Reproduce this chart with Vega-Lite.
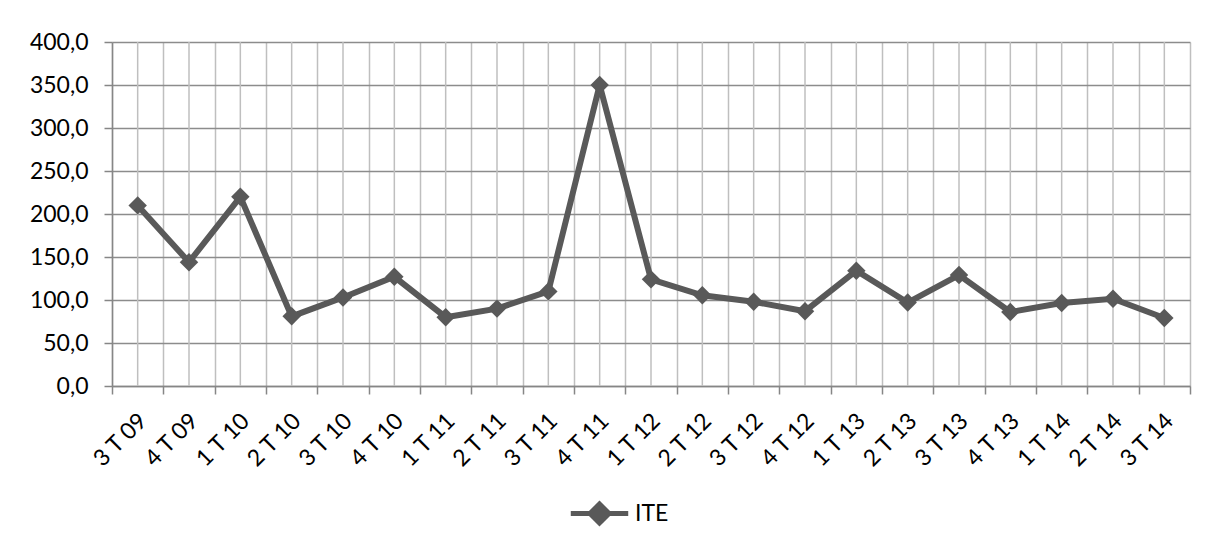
{
  "$schema": "https://vega.github.io/schema/vega-lite/v6.json",
  "width": 1078,
  "height": 344,
  "autosize": {"type": "none"},
  "padding": {"left": 112, "top": 42, "right": 17, "bottom": 160},
  "background": "white",
  "config": {
    "font": "Lato",
    "view": {"stroke": null},
    "axis": {"labelFont": "Lato", "labelFontSize": 23, "labelColor": "#000000"},
    "legend": {"labelFont": "Lato", "labelFontSize": 23, "labelColor": "#000000"}
  },
  "data": {
    "values": [
      {"q": "3 T 09", "v": 210, "s": "ITE"},
      {"q": "4 T 09", "v": 144, "s": "ITE"},
      {"q": "1 T 10", "v": 220, "s": "ITE"},
      {"q": "2 T 10", "v": 81, "s": "ITE"},
      {"q": "3 T 10", "v": 103, "s": "ITE"},
      {"q": "4 T 10", "v": 127, "s": "ITE"},
      {"q": "1 T 11", "v": 80, "s": "ITE"},
      {"q": "2 T 11", "v": 90, "s": "ITE"},
      {"q": "3 T 11", "v": 110, "s": "ITE"},
      {"q": "4 T 11", "v": 350, "s": "ITE"},
      {"q": "1 T 12", "v": 124, "s": "ITE"},
      {"q": "2 T 12", "v": 105.5, "s": "ITE"},
      {"q": "3 T 12", "v": 98, "s": "ITE"},
      {"q": "4 T 12", "v": 87, "s": "ITE"},
      {"q": "1 T 13", "v": 134, "s": "ITE"},
      {"q": "2 T 13", "v": 97, "s": "ITE"},
      {"q": "3 T 13", "v": 129, "s": "ITE"},
      {"q": "4 T 13", "v": 86, "s": "ITE"},
      {"q": "1 T 14", "v": 96.5, "s": "ITE"},
      {"q": "2 T 14", "v": 101.5, "s": "ITE"},
      {"q": "3 T 14", "v": 79, "s": "ITE"}
    ]
  },
  "encoding": {
    "x": {
      "field": "q",
      "type": "ordinal",
      "sort": null,
      "scale": {"type": "band", "paddingInner": 0, "paddingOuter": 0},
      "axis": {
        "title": null,
        "tickBand": "extent",
        "grid": true,
        "gridColor": "#bfbfbf",
        "gridWidth": 1.5,
        "domainColor": "#868686",
        "domainWidth": 1.5,
        "tickColor": "#868686",
        "tickWidth": 1.5,
        "tickSize": 8,
        "labelAngle": -45,
        "labelAlign": "right",
        "labelBaseline": "middle",
        "labelPadding": 23,
        "labelOffset": 5
      }
    }
  },
  "layer": [
    {
      "mark": {"type": "rule", "color": "#bfbfbf", "strokeWidth": 1.5},
      "encoding": {}
    },
    {
      "mark": {
        "type": "line",
        "strokeWidth": 6,
        "point": {"shape": "diamond", "size": 340, "filled": true, "opacity": 1}
      },
      "encoding": {
        "y": {
          "field": "v",
          "type": "quantitative",
          "scale": {"domain": [0, 400], "nice": false},
          "axis": {
            "title": null,
            "values": [0, 50, 100, 150, 200, 250, 300, 350, 400],
            "labelExpr": "replace(format(datum.value, '.1f'), '.', ',')",
            "grid": true,
            "gridColor": "#8c8c8c",
            "gridWidth": 1.5,
            "domainColor": "#868686",
            "domainWidth": 1.5,
            "tickColor": "#868686",
            "tickWidth": 1.5,
            "tickSize": 8,
            "labelPadding": 16
          }
        },
        "color": {
          "field": "s",
          "type": "nominal",
          "scale": {"range": ["#595959"]},
          "legend": {
            "title": null,
            "orient": "none",
            "legendX": 456,
            "legendY": 440,
            "symbolType": "M-1,0H1M0,-0.33L0.33,0L0,0.33L-0.33,0Z",
            "symbolSize": 3300,
            "symbolStrokeWidth": 5,
            "symbolFillColor": "#595959",
            "symbolStrokeColor": "#595959",
            "labelOffset": 4
          }
        }
      }
    }
  ]
}
